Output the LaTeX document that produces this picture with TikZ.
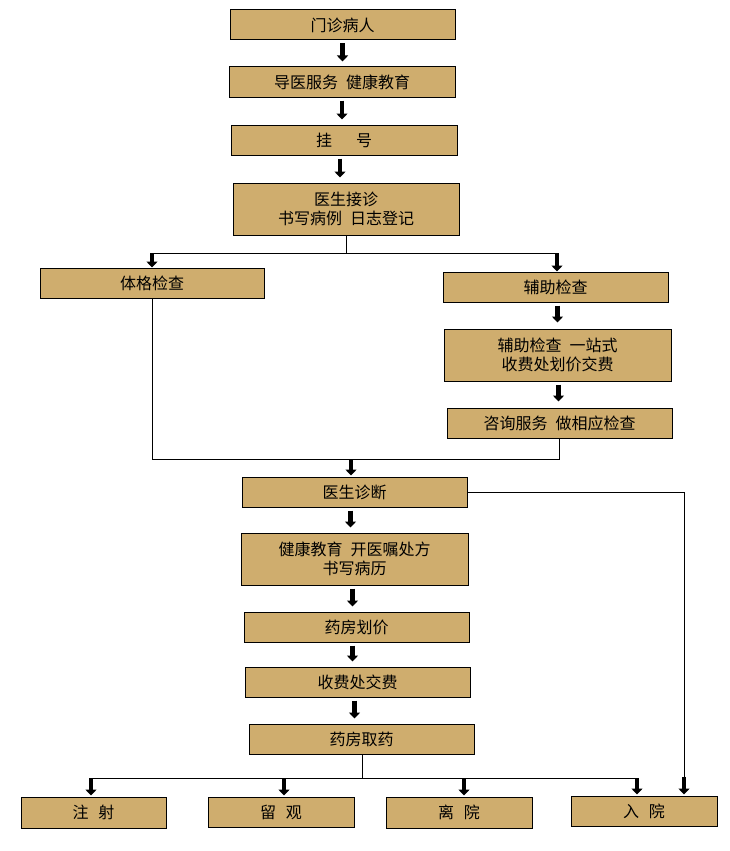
\documentclass[tikz,border=0pt]{standalone}
\usepackage{fontspec}
\usepackage{xcolor}
\usetikzlibrary{
    arrows.meta,
    positioning,
    calc
}
\newfontfamily\cjk{Noto Sans CJK SC}
\definecolor{boxfill}{RGB}{207,173,110}
\definecolor{dark}{HTML}{000000}
\tikzset{
    % Tan process box
    process/.style={
        rectangle,
        minimum width=225pt,
        minimum height=30pt,
        inner sep=0pt,
        align=center,
        font=\cjk\fontsize{16}{19}\selectfont,
        draw=dark,
        fill=boxfill,
        line width=1pt
    },
    % Thin connector
    link/.style={
        line width=0.8pt,
        color=dark
    },
    % Fat arrow
    fat/.style={
        -{Triangle[length=6pt, width=11pt]},
        line width=4.5pt,
        color=dark
    },
    % Fat arrow between two boxes
    flowarrow/.style={
        fat,
        shorten <=3pt,
        shorten >=5pt
    }
}

\begin{document}
\begin{tikzpicture}[x=1pt, y=-1pt]
        \useasboundingbox (0,0) rectangle (729,851);

        % Registration
        \node[process] (patient) at (342.5, 25) {门诊病人};
        \node[process, minimum width=226pt] (guide) at (342, 82) {导医服务\hspace{0.5em}健康教育};
        \node[process, minimum width=226pt] (register) at (344, 140) {挂\hspace{1.5em}号};
        \node[process, minimum width=226pt, minimum height=52pt] (doctor) at (346, 209) {医生接诊\\书写病例\hspace{0.5em}日志登记};

        % Examinations
        \node[process, minimum width=224pt] (physical) at (152, 283) {体格检查};
        \node[process] (auxiliary) at (555.5, 287) {辅助检查};
        \node[process, minimum width=227pt, minimum height=52pt] (onestop) at (557.5, 355) {辅助检查\hspace{0.5em}一站式\\收费处划价交费};
        \node[process] (consult) at (559.5, 423) {咨询服务\hspace{0.5em}做相应检查};

        % Diagnosis and medicine
        \node[process] (diagnosis) at (354.5, 492) {医生诊断};
        \node[process, minimum width=227pt, minimum height=52pt] (prescribe) at (354.5, 559) {健康教育\hspace{0.5em}开医嘱处方\\书写病历};
        \node[process] (pricing) at (356.5, 627) {药房划价};
        \node[process] (payment) at (357.5, 682) {收费处交费};
        \node[process] (pharmacy) at (361.5, 739) {药房取药};

        % Outcomes
        \node[process, minimum width=145pt, minimum height=31pt] (injection) at (93.5, 812.5) {注\hspace{0.6em}射};
        \node[process, minimum width=146pt] (observe) at (281, 812) {留\hspace{0.6em}观};
        \node[process, minimum width=146pt, minimum height=31pt] (discharge) at (459, 812.5) {离\hspace{0.6em}院};
        \node[process, minimum width=146pt] (admit) at (644, 811) {入\hspace{0.6em}院};

        % Junction points
        \coordinate (split) at (346, 253);
        \coordinate (splitL) at (152, 253);
        \coordinate (splitR) at (557, 253);
        \coordinate (merge) at (351, 459);
        \coordinate (bus) at (362, 778);
        \coordinate (bus1) at (91, 778);
        \coordinate (bus2) at (284, 778);
        \coordinate (bus3) at (464, 778);
        \coordinate (bus4) at (637, 778);
        \coordinate (side) at (684, 492);

        % Main column
        \draw[flowarrow] (patient.south) -- (patient.south |- guide.north);
        \draw[flowarrow] (guide.south) -- (guide.south |- register.north);
        \draw[flowarrow] (register.south) ++(-4,0) -- ($(register.south |- doctor.north)+(-4,0)$);

        % Split into examinations
        \draw[link] (doctor.south) -- (split);
        \draw[link] (splitL) -- (splitR);
        \draw[fat] (splitL) -- (splitL |- physical.north);
        \draw[fat] (splitR) -- (splitR |- auxiliary.north);
        \draw[flowarrow, shorten >=6pt] (auxiliary.south) ++(2,0) -- ($(auxiliary.south |- onestop.north)+(2,0)$);
        \draw[flowarrow, shorten >=6pt] (onestop.south) ++(1,0) -- ($(onestop.south |- consult.north)+(1,0)$);

        % Merge back
        \draw[link] (physical.south) -- (physical.south |- merge) -- (consult.south |- merge) -- (consult.south);
        \draw[fat, shorten >=1pt] (merge) -- (merge |- diagnosis.north);

        % Diagnosis to medicine
        \draw[flowarrow] (diagnosis.south) ++(-4,0) -- ($(diagnosis.south |- prescribe.north)+(-4,0)$);
        \draw[flowarrow] (prescribe.south) ++(-2,0) -- ($(prescribe.south |- pricing.north)+(-2,0)$);
        \draw[flowarrow] (pricing.south) ++(-4,0) -- ($(pricing.south |- payment.north)+(-4,0)$);
        \draw[flowarrow] (payment.south) ++(-3,0) -- ($(payment.south |- pharmacy.north)+(-3,0)$);

        % Direct admission
        \draw[link] (diagnosis.east) -- (side) -- ($(side |- admit.north)+(0,-18)$);
        \draw[fat, shorten >=1pt] ($(side |- admit.north)+(0,-19)$) -- (side |- admit.north);

        % Outcome bus
        \draw[link] (pharmacy.south -| bus) -- (bus);
        \draw[link] (bus1) -- (bus4);
        \draw[fat, shorten >=1pt] (bus1) -- (bus1 |- injection.north);
        \draw[fat, shorten >=1pt] (bus2) -- (bus2 |- observe.north);
        \draw[fat, shorten >=1pt] (bus3) -- (bus3 |- discharge.north);
        \draw[fat, shorten >=1pt] (bus4) -- (bus4 |- admit.north);

    \end{tikzpicture}
\end{document}
